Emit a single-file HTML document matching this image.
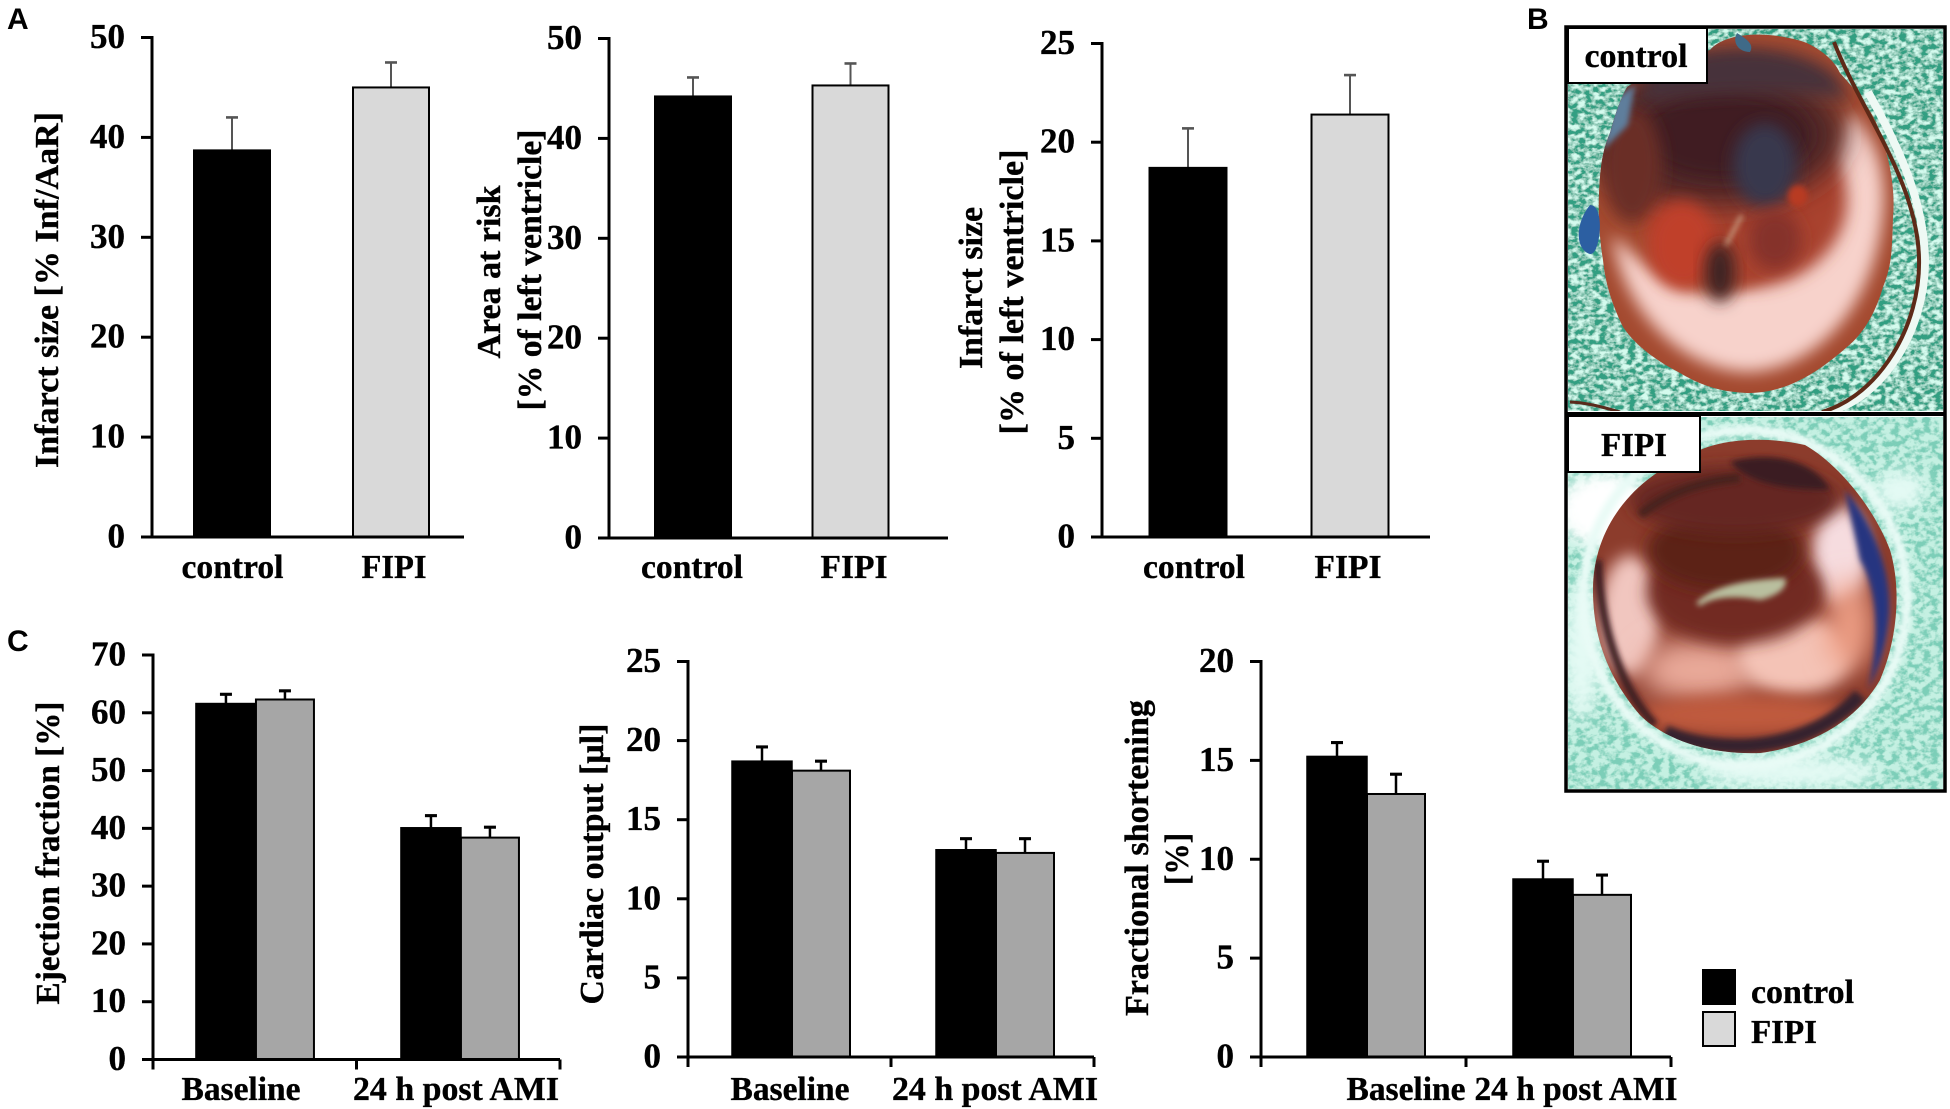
<!DOCTYPE html>
<html lang="en">
<head>
<meta charset="utf-8">
<title>Infarct size and cardiac function, control vs FIPI</title>
<style>
html,body{margin:0;padding:0;background:#fff;width:1950px;height:1109px;overflow:hidden}
svg{display:block}
.serif{font-family:"Liberation Serif","Times New Roman",serif;font-weight:bold;fill:#000;stroke:#000;stroke-width:.35}
.sans{font-family:"Liberation Sans",Arial,sans-serif;font-weight:bold;fill:#000}
</style>
</head>
<body>
<svg id="figure" xmlns="http://www.w3.org/2000/svg" width="1950" height="1109" viewBox="0 0 1950 1109">
  <defs>
    <filter id="grass" x="0" y="0" width="100%" height="100%">
      <feTurbulence type="fractalNoise" baseFrequency=".14 .2" numOctaves="3" seed="4" result="n"/>
      <feColorMatrix in="n" type="matrix" values="0 0 0 0 .66  0 0 0 0 .96  0 0 0 0 .86  3.2 0 0 0 -1.2" result="f"/>
      <feMerge><feMergeNode in="SourceGraphic"/><feMergeNode in="f"/></feMerge>
    </filter>
    <filter id="mint" x="0" y="0" width="100%" height="100%">
      <feTurbulence type="fractalNoise" baseFrequency=".13 .17" numOctaves="3" seed="9" result="n"/>
      <feColorMatrix in="n" type="matrix" values="0 0 0 0 .2  0 0 0 0 .62  0 0 0 0 .48  4 0 0 0 -1.6" result="f"/>
      <feMerge><feMergeNode in="SourceGraphic"/><feMergeNode in="f"/></feMerge>
    </filter>
    <filter id="b3" x="-30%" y="-30%" width="160%" height="160%"><feGaussianBlur stdDeviation="3"/></filter>
    <filter id="b8" x="-40%" y="-40%" width="180%" height="180%"><feGaussianBlur stdDeviation="8"/></filter>
    <filter id="b14" x="-50%" y="-50%" width="200%" height="200%"><feGaussianBlur stdDeviation="14"/></filter>
    <clipPath id="clip-control"><rect x="1568" y="29" width="375" height="382"/></clipPath>
    <clipPath id="clip-fipi"><rect x="1568" y="417" width="375" height="372"/></clipPath>
    <clipPath id="control-heart-clip"><path d="M1627 87 C1660 65 1690 55 1710 50 C1725 32 1770 30 1807 43 C1825 52 1835 62 1840 73 C1860 95 1875 115 1880 133 C1892 165 1895 195 1893 217 C1892 250 1892 265 1883 287 C1875 315 1862 335 1847 347 C1815 375 1785 393 1747 393 C1720 392 1700 385 1680 373 C1655 360 1635 345 1623 327 C1610 300 1605 280 1603 260 C1598 230 1598 200 1600 177 C1602 155 1605 145 1610 133 C1615 115 1620 100 1627 87Z"/></clipPath>
    <clipPath id="fipi-heart-clip"><path d="M1593 590 C1593 530 1630 480 1690 455 C1715 440 1760 435 1805 445 C1840 465 1875 510 1890 550 C1902 590 1897 640 1880 680 C1860 715 1820 745 1760 753 C1710 755 1665 740 1640 715 C1610 680 1593 640 1593 590Z"/></clipPath>
  </defs>

  <text class="sans" x="7" y="29" font-size="30">A</text>
  <text class="sans" x="1527" y="29" font-size="30">B</text>
  <text class="sans" x="7" y="651" font-size="30">C</text>

  <g id="charts"></g>

  <g>
    <g clip-path="url(#clip-control)">
      <rect x="1568" y="29" width="375" height="382" fill="#329f82" filter="url(#grass)"/>
      <g clip-path="url(#control-heart-clip)">
        <rect x="1590" y="25" width="310" height="375" fill="#a44a30"/>
        <path d="M1612 235 C1625 320 1690 372 1750 372 C1820 368 1880 300 1884 200 C1884 160 1872 135 1850 112 C1825 170 1800 285 1720 292 C1680 298 1650 270 1612 235Z" fill="#f7d2cb" filter="url(#b8)"/>
        <ellipse cx="1745" cy="200" rx="102" ry="88" fill="#a9432e" filter="url(#b8)"/>
        <ellipse cx="1715" cy="135" rx="130" ry="72" fill="#4f2527" filter="url(#b14)"/>
        <ellipse cx="1725" cy="135" rx="85" ry="44" fill="#3f1f24" filter="url(#b8)"/>
        <ellipse cx="1632" cy="165" rx="30" ry="58" fill="#6a2f26" filter="url(#b8)"/>
        <ellipse cx="1682" cy="245" rx="34" ry="44" fill="#c0402a" filter="url(#b8)"/>
        <ellipse cx="1765" cy="165" rx="32" ry="42" fill="#39384e" filter="url(#b8)"/>
        <ellipse cx="1720" cy="272" rx="15" ry="30" fill="#3c2022" filter="url(#b8)"/>
        <ellipse cx="1775" cy="240" rx="26" ry="30" fill="#85302a" filter="url(#b8)"/>
        <ellipse cx="1798" cy="196" rx="10" ry="11" fill="#b83a24" filter="url(#b3)"/>
        <path d="M1650 72 C1690 44 1790 36 1835 75 L1850 100 C1800 92 1710 88 1640 105Z" fill="#47313a" filter="url(#b8)"/>
        <path d="M1635 85 L1628 125 L1603 150 L1614 100Z" fill="#5f7e9c" filter="url(#b3)"/>
        <path d="M1742 215 L1726 245" stroke="#d8c8a8" stroke-width="2.5" fill="none" filter="url(#b3)"/>
      </g>
      <path d="M1737 33 C1745 38 1755 44 1750 52 C1738 52 1732 42 1737 33Z" fill="#3f6a88"/>
      <path d="M1590 205 C1606 205 1600 256 1590 254 C1576 250 1574 225 1590 205Z" fill="#2c5fa2"/>
      <path d="M1868 92 C1895 140 1925 200 1925 262 C1925 330 1882 400 1826 412" fill="none" stroke="#eef9f4" stroke-width="8"/>
      <path d="M1834 42 C1860 110 1917 180 1919 258 C1921 325 1880 395 1822 412" fill="none" stroke="#5e2a18" stroke-width="4"/>
      <path d="M1570 402 C1590 403 1605 408 1620 412" fill="none" stroke="#5a2a1c" stroke-width="3"/>
    </g>
  </g>

  <g>
    <g clip-path="url(#clip-fipi)">
      <rect x="1568" y="417" width="375" height="372" fill="#c4f0e2" filter="url(#mint)"/>
      <ellipse cx="1605" cy="510" rx="48" ry="38" fill="#fff" filter="url(#b8)"/>
      <ellipse cx="1790" cy="772" rx="90" ry="16" fill="#e4faf4" filter="url(#b8)"/>
      <ellipse cx="1900" cy="490" rx="25" ry="20" fill="#e4faf4" filter="url(#b8)"/>
      <ellipse cx="1582" cy="650" rx="18" ry="70" fill="#e4faf4" filter="url(#b8)"/>
      <ellipse cx="1745" cy="598" rx="162" ry="168" fill="none" stroke="#e9fbf6" stroke-width="10" filter="url(#b3)"/>
      <g clip-path="url(#fipi-heart-clip)">
        <rect x="1585" y="430" width="320" height="330" fill="#8c3c2c"/>
        <ellipse cx="1630" cy="615" rx="30" ry="60" fill="#f1c6bf" filter="url(#b8)"/>
        <ellipse cx="1700" cy="670" rx="60" ry="32" fill="#e9a999" filter="url(#b14)"/>
        <ellipse cx="1795" cy="655" rx="58" ry="40" fill="#f4c3b6" filter="url(#b8)"/>
        <ellipse cx="1840" cy="555" rx="28" ry="50" fill="#f6dcdf" filter="url(#b8)"/>
        <ellipse cx="1850" cy="625" rx="24" ry="45" fill="#ee9f85" filter="url(#b14)"/>
        <ellipse cx="1745" cy="715" rx="105" ry="20" fill="#bf5a3c" filter="url(#b8)"/>
        <ellipse cx="1735" cy="592" rx="88" ry="52" fill="#722a20" filter="url(#b8)"/>
        <ellipse cx="1725" cy="550" rx="78" ry="40" fill="#5c2019" filter="url(#b8)"/>
        <ellipse cx="1735" cy="500" rx="105" ry="34" fill="#652821" filter="url(#b8)"/>
        <path d="M1730 462 C1770 450 1815 460 1830 490 C1790 490 1750 485 1730 462Z" fill="#3a1a20" filter="url(#b3)"/>
        <path d="M1640 515 C1670 490 1710 480 1740 478" stroke="#47221f" stroke-width="9" fill="none" filter="url(#b3)"/>
        <path d="M1696 603 C1715 585 1745 580 1785 578 C1790 590 1770 598 1760 600 C1735 595 1712 597 1700 606Z" fill="#b9bf9f" filter="url(#b3)"/>
        <path d="M1845 490 C1875 525 1895 580 1888 625 C1885 650 1878 670 1868 690 C1880 640 1878 590 1860 560 C1855 535 1850 515 1845 490Z" fill="#263580" filter="url(#b3)"/>
        <path d="M1598 560 C1600 630 1622 690 1655 725" fill="none" stroke="#3b1c24" stroke-width="8" filter="url(#b3)"/>
        <path d="M1665 732 C1720 756 1810 752 1860 695" fill="none" stroke="#35222e" stroke-width="14" filter="url(#b3)"/>
      </g>
    </g>
  </g>

  <g fill="none" stroke="#000">
    <rect x="1566" y="27" width="379" height="764" stroke-width="3.5"/>
    <line x1="1566" y1="414" x2="1945" y2="414" stroke-width="4"/>
  </g>
  <rect x="1568" y="28" width="139" height="55" fill="#fff" stroke="#000" stroke-width="2"/>
  <text class="serif" x="1636" y="67" font-size="34" text-anchor="middle" textLength="103" lengthAdjust="spacingAndGlyphs">control</text>
  <rect x="1568" y="416" width="132" height="56" fill="#fff" stroke="#000" stroke-width="2"/>
  <text class="serif" x="1634" y="456" font-size="34" text-anchor="middle" textLength="66" lengthAdjust="spacingAndGlyphs">FIPI</text>

  <g>
    <rect x="1702" y="969" width="34" height="36" fill="#000"/>
    <text class="serif" x="1751" y="1003" font-size="34" textLength="103" lengthAdjust="spacingAndGlyphs">control</text>
    <rect x="1703" y="1012" width="32" height="34" fill="#d9d9d9" stroke="#000" stroke-width="2"/>
    <text class="serif" x="1751" y="1043" font-size="34" textLength="66" lengthAdjust="spacingAndGlyphs">FIPI</text>
  </g>
</svg>

<script>
// ---- Chart data ----
const infarctAarCategories = ['control', 'FIPI'];
const infarctAarValues = [38.7, 45.0];
const infarctAarErrors = [3.3, 2.5];
const infarctAarTicks = [0, 10, 20, 30, 40, 50];

const areaRiskCategories = ['control', 'FIPI'];
const areaRiskValues = [44.2, 45.3];
const areaRiskErrors = [1.9, 2.2];
const areaRiskTicks = [0, 10, 20, 30, 40, 50];

const infarctLvCategories = ['control', 'FIPI'];
const infarctLvValues = [18.7, 21.4];
const infarctLvErrors = [2.0, 2.0];
const infarctLvTicks = [0, 5, 10, 15, 20, 25];

const functionCategories = ['Baseline', '24 h post AMI'];

const ejectionControl = [61.6, 40.1];
const ejectionFipi = [62.3, 38.4];
const ejectionControlErr = [1.6, 2.1];
const ejectionFipiErr = [1.5, 1.8];
const ejectionTicks = [0, 10, 20, 30, 40, 50, 60, 70];

const outputControl = [18.7, 13.1];
const outputFipi = [18.1, 12.9];
const outputControlErr = [0.9, 0.7];
const outputFipiErr = [0.6, 0.9];
const outputTicks = [0, 5, 10, 15, 20, 25];

const shorteningControl = [15.2, 9.0];
const shorteningFipi = [13.3, 8.2];
const shorteningControlErr = [0.7, 0.9];
const shorteningFipiErr = [1.0, 1.0];
const shorteningTicks = [0, 5, 10, 15, 20];

// ---- Drawing helpers ----
const NS = 'http://www.w3.org/2000/svg';
const root = document.getElementById('charts');

function make(tag, attrs, parent) {
  const el = document.createElementNS(NS, tag);
  for (const k in attrs) el.setAttribute(k, attrs[k]);
  parent.appendChild(el);
  return el;
}

function line(parent, x1, y1, x2, y2, color, w, name) {
  const el = make('line', {x1, y1, x2, y2, stroke: color, 'stroke-width': w}, parent);
  
  
  return el;
}

function label(parent, str, x, y, size, anchor, name, length, rotate) {
  const el = make('text', {x, y, 'font-size': size, 'text-anchor': anchor, class: 'serif'}, parent);
  el.textContent = str;
  if (length) {
    el.setAttribute('textLength', length);
    el.setAttribute('lengthAdjust', 'spacingAndGlyphs');
  }
  if (rotate) el.setAttribute('transform', 'rotate(-90 ' + x + ' ' + y + ')');
  
  
  return el;
}

function drawChart(cfg, categories, series, ticks) {
  const g = make('g', {}, root);
  
  

  const yMax = ticks[ticks.length - 1];
  const y = v => cfg.yBot - (v / yMax) * (cfg.yBot - cfg.yTop);
  const band = (cfg.x1 - cfg.x0) / categories.length;
  const center = i => cfg.x0 + band * (i + 0.5) + cfg.shift[i];

  // bars and error bars
  categories.forEach((cat, i) => {
    series.forEach((s, j) => {
      const w = s.width;
      const left = s.place === 'left' ? center(i) - w
                 : s.place === 'right' ? center(i)
                 : center(i) - w / 2;
      const mid = left + w / 2;
      const val = s.values[i];
      const top = y(val + s.errors[i]);
      line(g, mid, y(val), mid, top, cfg.errColor, cfg.errWidth, 'error-bar-' + s.key + '-' + i);
      line(g, mid - 6, top, mid + 6, top, cfg.errColor, cfg.errWidth + 0.6, 'error-cap-' + s.key + '-' + i);
      const bar = make('rect', {x: left, y: y(val), width: w, height: cfg.yBot - y(val), fill: s.fill[i], stroke: '#000', 'stroke-width': s.stroke}, g);
      
      
    });
    label(g, cat, cfg.catX[i], cfg.catY, 34, 'middle', 'x-label-' + i, cfg.catLen[i]);
  });

  // axes
  line(g, cfg.x0, cfg.yTop - 1.5, cfg.x0, cfg.yBot + 1.5, '#000', 3, 'y-axis');
  line(g, cfg.x0 - 11, cfg.yBot, cfg.x1, cfg.yBot, '#000', 3, 'x-axis');
  ticks.forEach(t => {
    line(g, cfg.x0 - 11, y(t), cfg.x0, y(t), '#000', 3, 'y-tick-' + t);
    label(g, String(t), cfg.x0 - 27, y(t) + 10.5, 35, 'end', 'y-tick-label-' + t);
  });
  if (cfg.groupTicks) {
    [0, 1, 2].forEach(k => {
      line(g, cfg.x0 + band * k, cfg.yBot, cfg.x0 + band * k, cfg.yBot + 10, '#000', 3, 'x-tick-' + k);
    });
  }
  cfg.titles.forEach((t, k) => {
    label(g, t.text, t.x, t.y, 34, 'middle', 'y-axis-title-' + k, t.len, true);
  });
}

const BLACK = '#000';
const LIGHT = '#d9d9d9';
const MID = '#a6a6a6';

function singleSeries(values, errors, width) {
  return [{key: 'mean', place: 'center', width, values, errors, fill: [BLACK, LIGHT], stroke: 2}];
}
function pairSeries(cv, ce, fv, fe) {
  return [
    {key: 'control', place: 'left', width: 60, values: cv, errors: ce, fill: [BLACK, BLACK], stroke: 1.5},
    {key: 'fipi', place: 'right', width: 58, values: fv, errors: fe, fill: [MID, MID], stroke: 2}
  ];
}

drawChart({name: 'chart-infarct-aar', x0: 152, x1: 464, yTop: 37.5, yBot: 537, shift: [2, 5],
  errColor: '#555', errWidth: 2, catX: [232.5, 394], catY: 578, catLen: [102, 65],
  titles: [{text: 'Infarct size [% Inf/AaR]', x: 58, y: 290, len: 356}]},
  infarctAarCategories, singleSeries(infarctAarValues, infarctAarErrors, 76), infarctAarTicks);

drawChart({name: 'chart-area-at-risk', x0: 609, x1: 948, yTop: 38.5, yBot: 538, shift: [-0.75, -12.75],
  errColor: '#555', errWidth: 2, catX: [692, 854], catY: 578, catLen: [102, 67],
  titles: [{text: 'Area at risk', x: 500, y: 272, len: 173}, {text: '[% of left ventricle]', x: 541, y: 270, len: 281}]},
  areaRiskCategories, singleSeries(areaRiskValues, areaRiskErrors, 76), areaRiskTicks);

drawChart({name: 'chart-infarct-lv', x0: 1102, x1: 1430, yTop: 43.5, yBot: 537, shift: [4, 2],
  errColor: '#555', errWidth: 2, catX: [1194, 1348], catY: 578, catLen: [102, 67],
  titles: [{text: 'Infarct size', x: 982, y: 288, len: 162}, {text: '[% of  left ventricle]', x: 1023, y: 292, len: 285}]},
  infarctLvCategories, singleSeries(infarctLvValues, infarctLvErrors, 77), infarctLvTicks);

drawChart({name: 'chart-ejection-fraction', x0: 153, x1: 560, yTop: 655, yBot: 1059.5, shift: [1.2, 2.7], groupTicks: true,
  errColor: '#000', errWidth: 2.5, catX: [241, 456], catY: 1100, catLen: [119, 206],
  titles: [{text: 'Ejection fraction [%]', x: 59, y: 853, len: 303}]},
  functionCategories, pairSeries(ejectionControl, ejectionControlErr, ejectionFipi, ejectionFipiErr), ejectionTicks);

drawChart({name: 'chart-cardiac-output', x0: 688, x1: 1094, yTop: 661.5, yBot: 1057, shift: [2.5, 3.5], groupTicks: true,
  errColor: '#000', errWidth: 2.5, catX: [790, 995], catY: 1100, catLen: [119, 206],
  titles: [{text: 'Cardiac output [\u00b5l]', x: 603, y: 864, len: 281}]},
  functionCategories, pairSeries(outputControl, outputControlErr, outputFipi, outputFipiErr), outputTicks);

drawChart({name: 'chart-fractional-shortening', x0: 1261, x1: 1671, yTop: 661.5, yBot: 1057, shift: [3.5, 4.5], groupTicks: true,
  errColor: '#000', errWidth: 2.5, catX: [1406, 1576], catY: 1100, catLen: [119, 203],
  titles: [{text: 'Fractional shortening', x: 1148, y: 858, len: 316}, {text: '[%]', x: 1188, y: 859, len: 52}]},
  functionCategories, pairSeries(shorteningControl, shorteningControlErr, shorteningFipi, shorteningFipiErr), shorteningTicks);
</script>
</body>
</html>
